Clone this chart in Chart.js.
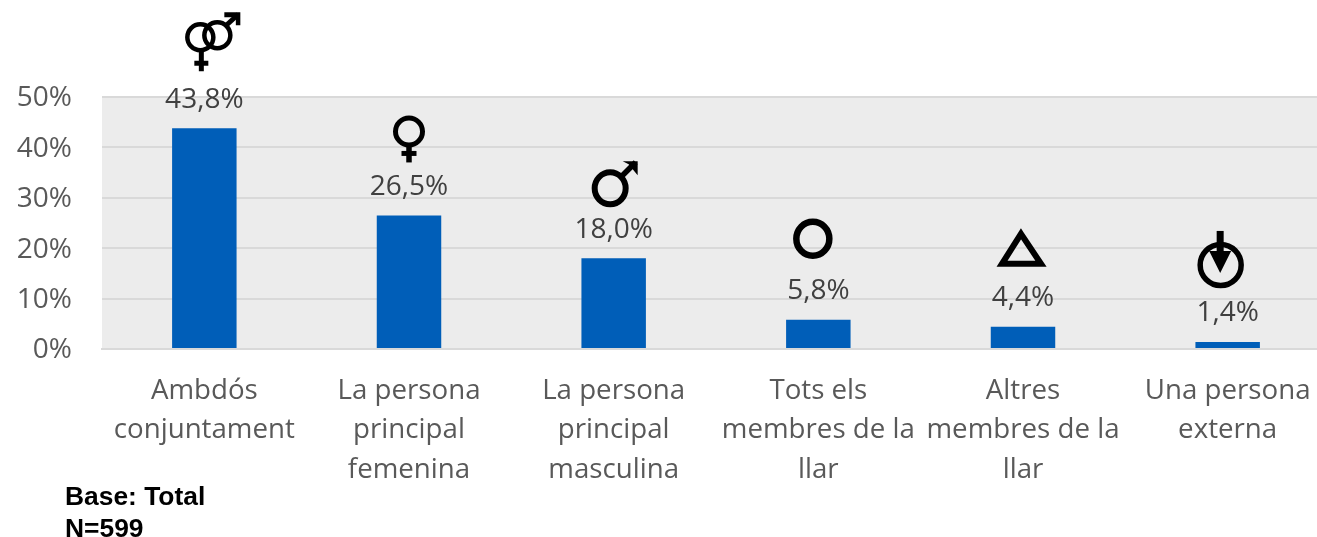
<!DOCTYPE html>
<html>
<head>
<meta charset="utf-8">
<style>
html,body{margin:0;padding:0;background:#fff;overflow:hidden;width:1317px;height:537px}
#wrap{position:absolute;left:0;top:0;width:1330px;height:537px}
</style>
<script src="https://cdn.jsdelivr.net/npm/chart.js@4"></script>
</head>
<body>
<div id="wrap"><canvas id="c" width="1330" height="537"></canvas></div>
<script>
const categories = [
  ['Ambdós','conjuntament'],
  ['La persona','principal','femenina'],
  ['La persona','principal','masculina'],
  ['Tots els','membres de la','llar'],
  ['Altres','membres de la','llar'],
  ['Una persona','externa']
];
const values = [43.8, 26.5, 18.0, 5.8, 4.4, 1.4];
const valueLabels = ['43,8%','26,5%','18,0%','5,8%','4,4%','1,4%'];
const symbols = ['both','female','male','circle','triangle','external'];
const notes = ['Base: Total','N=599'];
const FONT = '"Open Sans", sans-serif';

function line(g,pts,w,close){g.lineWidth=w;g.beginPath();pts.forEach((p,i)=>i?g.lineTo(p[0],p[1]):g.moveTo(p[0],p[1]));if(close)g.closePath();g.stroke();}
function ell(g,x,y,rx,ry,w){g.lineWidth=w;g.beginPath();g.ellipse(x,y,rx,ry,0,0,Math.PI*2);g.stroke();}
function head(g,pts){g.beginPath();pts.forEach((p,i)=>i?g.lineTo(p[0],p[1]):g.moveTo(p[0],p[1]));g.closePath();g.fill();}
// Each glyph is drawn relative to its bar: (0,0) = centre of the bar's top edge
const glyphs = {
  both(g){
    ell(g,-4,-91,13,13,4.5); ell(g,13,-93,13,13,4.5);
    line(g,[[-3,-77],[-3,-57]],5); line(g,[[-10,-65],[4,-65]],5);
    line(g,[[22,-103],[34,-114]],5); head(g,[[20,-116],[36,-116],[36,-103],[31.5,-103],[31.5,-111],[20,-111]]);
  },
  female(g){
    ell(g,0,-84,13.5,13.5,5); line(g,[[0,-70],[0,-53]],5.5); line(g,[[-7.5,-62],[7.5,-62]],5);
  },
  male(g){
    ell(g,-3.5,-70,15.5,16,6); line(g,[[7,-81],[22,-96]],5.5);
    head(g,[[9,-97],[24,-97],[24,-83],[19,-89],[15,-94]]);
  },
  circle(g){ ell(g,-5.5,-81,16.5,17,6.5); },
  triangle(g){ g.lineJoin='miter'; line(g,[[-2,-93],[18,-63],[-21,-63]],6,true); },
  external(g){
    ell(g,-7,-77,20.5,20.5,5.5); line(g,[[-7.5,-111],[-7.5,-90]],7);
    head(g,[[-18.5,-91],[3.5,-91],[-7.5,-69]]);
  }
};

const overlay = {
  id:'overlay',
  afterDatasetsDraw(chart){
    const g = chart.ctx, xs = chart.scales.x, ys = chart.scales.y;
    g.save();
    values.forEach((v,i)=>{
      const x = xs.getPixelForValue(i), y = ys.getPixelForValue(v);
      g.fillStyle='#404040'; g.font='28px '+FONT; g.textAlign='center'; g.textBaseline='middle';
      g.fillText(valueLabels[i],x,y-28.5);
      g.save(); g.translate(x,y); g.strokeStyle='#000'; g.fillStyle='#000';
      glyphs[symbols[i]](g); g.restore();
    });
    g.fillStyle='#000'; g.font='bold 26.4px "Liberation Sans", Arial, sans-serif';
    g.textAlign='left'; g.textBaseline='alphabetic';
    notes.forEach((t,i)=>g.fillText(t,65,505+i*32));
    g.restore();
  }
};
const plotBg = {
  id:'plotBg',
  beforeDraw(chart){
    const a=chart.chartArea,g=chart.ctx;
    g.save();g.fillStyle='#ECECEC';g.fillRect(a.left,a.top,a.right-a.left,a.bottom-a.top);g.restore();
  }
};

new Chart(document.getElementById('c'),{
  type:'bar',
  data:{labels:categories,datasets:[{data:values,backgroundColor:'#005EB8',barPercentage:0.315,categoryPercentage:1}]},
  plugins:[plotBg,overlay],
  options:{
    responsive:false,animation:false,
    layout:{padding:{top:97,right:0,left:0,bottom:0}},
    plugins:{legend:{display:false},tooltip:{enabled:false},title:{display:false}},
    scales:{
      x:{
        grid:{display:false},border:{display:true,color:'#D9D9D9',width:2},
        ticks:{color:'#595959',font:{family:FONT,size:27.7,lineHeight:1.41},maxRotation:0,minRotation:0,autoSkip:false,padding:15},
        afterFit(s){s.height=188;}
      },
      y:{
        min:0,max:50,
        grid:{color:'#D9D9D9',lineWidth:2,drawTicks:false},border:{display:false},
        ticks:{stepSize:10,color:'#595959',font:{family:FONT,size:28},padding:30,callback:v=>v+'%'},
        afterFit(s){
          s.width=102;
          if(!s._nudged){
            s._nudged=true;
            const draw=s.drawLabels;
            s.drawLabels=function(area){const g=this.ctx;g.save();g.translate(0,1.5);draw.call(this,area);g.restore();};
          }
        }
      }
    }
  }
});
</script>
</body>
</html>
